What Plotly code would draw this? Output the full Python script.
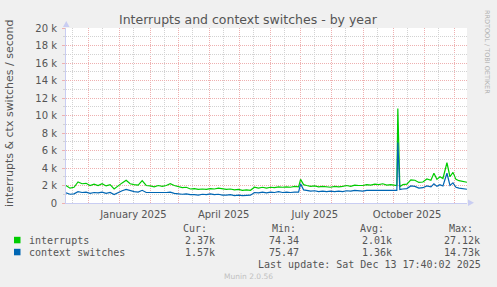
import pandas as pd
import plotly.graph_objects as go

# ---------------- data ----------------
start = pd.Timestamp("2024-11-08 17:40:02")
end = pd.Timestamp("2025-12-13 17:40:02")

day_offsets = [0, 4, 8, 12, 16, 20, 24, 28, 32, 36, 40, 44, 48, 52, 56, 60, 64, 68, 72, 76,
               80, 84, 88, 92, 96, 100, 104, 108, 112, 116, 120, 124, 128, 132, 136, 140, 144, 148, 152, 156,
               160, 164, 168, 172, 176, 180, 184, 188, 192, 196, 200, 204, 208, 212, 216, 220, 224, 228, 232, 234,
               237, 240, 244, 248, 252, 256, 260, 264, 268, 272, 276, 280, 284, 288, 292, 296, 300, 304, 308, 312,
               316, 320, 324, 328, 330, 331, 333, 336, 340, 344, 348, 352, 356, 360, 364, 367, 370, 373, 376, 380,
               383, 386, 389, 392, 396, 400]

interrupts_k = [2.0, 1.7, 1.8, 2.4, 2.2, 2.25, 2.0, 2.15, 2.0, 2.2, 1.95, 2.1, 1.6, 2.0, 2.3, 2.6, 2.2, 2.1, 2.05, 2.55,
                2.0, 1.95, 1.85, 2.0, 1.9, 2.0, 2.2, 2.0, 1.85, 1.75, 1.8, 1.6, 1.65, 1.55, 1.6, 1.55, 1.65, 1.6, 1.7, 1.6,
                1.55, 1.6, 1.5, 1.55, 1.45, 1.5, 1.45, 1.8, 1.7, 1.8, 1.7, 1.8, 1.75, 1.85, 1.8, 1.85, 1.8, 1.9, 1.85, 2.7,
                2.1, 2.0, 1.9, 1.95, 1.85, 1.9, 1.85, 1.8, 1.9, 1.85, 1.9, 2.0, 1.9, 2.05, 2.0, 2.0, 2.1, 2.05, 2.15, 2.1,
                2.2, 2.05, 2.1, 2.05, 2.0, 10.8, 1.85, 2.1, 2.15, 2.65, 2.6, 2.35, 2.4, 2.75, 2.6, 3.4, 2.7, 3.0, 2.8, 4.6,
                3.0, 3.5, 2.7, 2.55, 2.45, 2.37]

context_switches_k = [1.15, 1.0, 1.05, 1.3, 1.2, 1.25, 1.1, 1.2, 1.15, 1.25, 1.1, 1.2, 0.97, 1.2, 1.4, 1.55, 1.4, 1.3, 1.25, 1.45,
                      1.2, 1.2, 1.15, 1.2, 1.15, 1.2, 1.25, 1.1, 1.05, 1.0, 1.05, 0.95, 0.95, 0.9, 1.0, 0.95, 1.05, 0.95, 1.0, 0.9,
                      0.9, 0.95, 0.85, 0.9, 0.85, 0.9, 0.9, 1.2, 1.15, 1.25, 1.15, 1.25, 1.2, 1.3, 1.2, 1.25, 1.2, 1.25, 1.25, 2.2,
                      1.5, 1.45, 1.35, 1.4, 1.3, 1.35, 1.3, 1.35, 1.3, 1.35, 1.3, 1.4, 1.35, 1.45, 1.4, 1.35, 1.45, 1.45, 1.5, 1.45,
                      1.5, 1.45, 1.5, 1.45, 1.45, 6.9, 1.55, 1.6, 1.65, 1.95, 1.9, 1.7, 1.75, 1.95, 1.85, 2.2, 1.9, 2.1, 1.95, 3.4,
                      2.0, 2.3, 1.8, 1.7, 1.65, 1.57]

y_tick_values = [0, 2000, 4000, 6000, 8000, 10000, 12000, 14000, 16000, 18000, 20000]
y_tick_labels = ["0", "2 k", "4 k", "6 k", "8 k", "10 k", "12 k", "14 k", "16 k", "18 k", "20 k"]
y_minor_values = [1000, 3000, 5000, 7000, 9000, 11000, 13000, 15000, 17000, 19000]

x_label_months = ["2025-01", "2025-04", "2025-07", "2025-10"]
x_label_texts = ["January 2025", "April 2025", "July 2025", "October 2025"]

legend_names = ["interrupts", "context switches"]
legend_cur = ["2.37k", "1.57k"]
legend_min = ["74.34", "75.47"]
legend_avg = ["2.01k", "1.36k"]
legend_max = ["27.12k", "14.73k"]
colors = ["#00cc00", "#0066b3"]

# ---------------- build ----------------
assert len(day_offsets) == len(interrupts_k) == len(context_switches_k)
x_dates = [start + pd.Timedelta(days=d) for d in day_offsets]

W, H = 497, 287
L, R, T, B = 66, 30, 28, 84
PW, PH = W - L - R, H - T - B
bottom_px = H - B


def px(xp):
    return (xp - L) / PW


def py(yp):
    return (bottom_px - yp) / PH


fig = go.Figure()
for name, vals, col in zip(legend_names, [interrupts_k, context_switches_k], colors):
    fig.add_trace(go.Scatter(x=x_dates, y=[v * 1000 for v in vals], mode="lines", name=name,
                             line=dict(color=col, width=1.2), showlegend=False, hoverinfo="skip"))

months_first = pd.date_range("2024-12-01", "2025-12-01", freq="MS")
mid_months = [pd.Timestamp(m.year, m.month, 15) for m in pd.date_range("2024-11-01", "2025-11-01", freq="MS")]
label_map = dict(zip(x_label_months, x_label_texts))
mid_texts = [label_map.get(m.strftime("%Y-%m"), "") for m in mid_months]

red_grid = "#eeb0b0"
gray_grid = "#d2d2d2"
text_col = "#555555"
axis_col = "#c9cdf2"

fig.update_layout(
    width=W, height=H,
    margin=dict(l=L, r=R, t=T, b=B, pad=0),
    paper_bgcolor="#f0f0f0", plot_bgcolor="#ffffff",
    font=dict(family="DejaVu Sans", size=10, color=text_col),
    xaxis=dict(
        type="date", range=[start, end],
        tickmode="array", tickvals=mid_months, ticktext=mid_texts,
        showgrid=True, gridcolor=gray_grid, griddash="1px,1px", gridwidth=1,
        ticks="", tickfont=dict(size=10, color=text_col),
        showline=True, linecolor=axis_col, linewidth=1,
        zeroline=False, ticklabelstandoff=2,
        minor=dict(tickmode="array", tickvals=list(months_first), showgrid=True,
                   gridcolor=red_grid, griddash="1px,1px", gridwidth=1, ticks=""),
        fixedrange=True,
    ),
    yaxis=dict(
        range=[0, 20000], tickmode="array", tickvals=y_tick_values, ticktext=y_tick_labels,
        showgrid=True, gridcolor=red_grid, griddash="1px,1px", gridwidth=1,
        ticks="outside", ticklen=3, tickcolor=red_grid,
        tickfont=dict(size=10, color=text_col),
        showline=True, linecolor=axis_col, linewidth=1,
        zeroline=False, ticklabelstandoff=3,
        minor=dict(tickmode="array", tickvals=y_minor_values, showgrid=True,
                   gridcolor=gray_grid, griddash="1px,1px", gridwidth=1,
                   ticks="outside", ticklen=2, tickcolor=gray_grid),
        fixedrange=True,
    ),
)

ann = []
ann.append(dict(text="Interrupts and context switches - by year", x=px(248), y=py(20), xref="paper", yref="paper",
                showarrow=False, xanchor="center", yanchor="middle",
                font=dict(family="DejaVu Sans", size=12.5, color=text_col)))
ann.append(dict(text="interrupts & ctx switches / second", x=px(9), y=py(114), xref="paper", yref="paper",
                showarrow=False, xanchor="center", yanchor="middle", textangle=-90,
                font=dict(family="DejaVu Sans", size=11, color=text_col)))
ann.append(dict(text="RRDTOOL / TOBI OETIKER", x=px(487), y=py(52), xref="paper", yref="paper",
                showarrow=False, xanchor="center", yanchor="middle", textangle=90,
                font=dict(family="DejaVu Sans", size=6.5, color="#b0b0b0")))

mono = dict(family="DejaVu Sans Mono", size=10, color=text_col)
for txt, xp in zip(["Cur:", "Min:", "Avg:", "Max:"], [181, 270, 358, 447]):
    ann.append(dict(text=txt, x=px(xp), y=py(228), xref="paper", yref="paper", showarrow=False,
                    xanchor="left", yanchor="middle", font=mono))
rows_y = [240, 252]
for i in range(2):
    yy = rows_y[i]
    ann.append(dict(text=legend_names[i], x=px(26.5), y=py(yy), xref="paper", yref="paper", showarrow=False,
                    xanchor="left", yanchor="middle", font=mono))
    for txt, xr in zip([legend_cur[i], legend_min[i], legend_avg[i], legend_max[i]], [217, 300.5, 393.5, 482]):
        ann.append(dict(text=txt, x=px(xr), y=py(yy), xref="paper", yref="paper", showarrow=False,
                        xanchor="right", yanchor="middle", font=mono))
ann.append(dict(text="Last update: Sat Dec 13 17:40:02 2025", x=px(482.5), y=py(264), xref="paper", yref="paper",
                showarrow=False, xanchor="right", yanchor="middle", font=mono))
ann.append(dict(text="Munin 2.0.56", x=px(248), y=py(276), xref="paper", yref="paper", showarrow=False,
                xanchor="center", yanchor="middle", font=dict(family="DejaVu Sans", size=7.5, color="#c0c0c0")))
fig.update_layout(annotations=ann)

shapes = []
for i in range(2):
    yy = rows_y[i]
    shapes.append(dict(type="rect", xref="paper", yref="paper", x0=px(14), x1=px(20.5), y0=py(yy + 3.3), y1=py(yy - 3.2),
                       fillcolor=colors[i], line=dict(width=0)))
shapes.append(dict(type="path", xref="paper", yref="paper",
                   path=f"M {px(L-3)} {py(T-1)} L {px(L+3.5)} {py(T-1)} L {px(L+0.25)} {py(T-7)} Z",
                   fillcolor=axis_col, line=dict(width=0)))
shapes.append(dict(type="path", xref="paper", yref="paper",
                   path=f"M {px(W-R+1)} {py(bottom_px-3.5)} L {px(W-R+1)} {py(bottom_px+3)} L {px(W-R+7)} {py(bottom_px-0.25)} Z",
                   fillcolor=axis_col, line=dict(width=0)))
fig.update_layout(shapes=shapes)

fig.write_html("out.html")
